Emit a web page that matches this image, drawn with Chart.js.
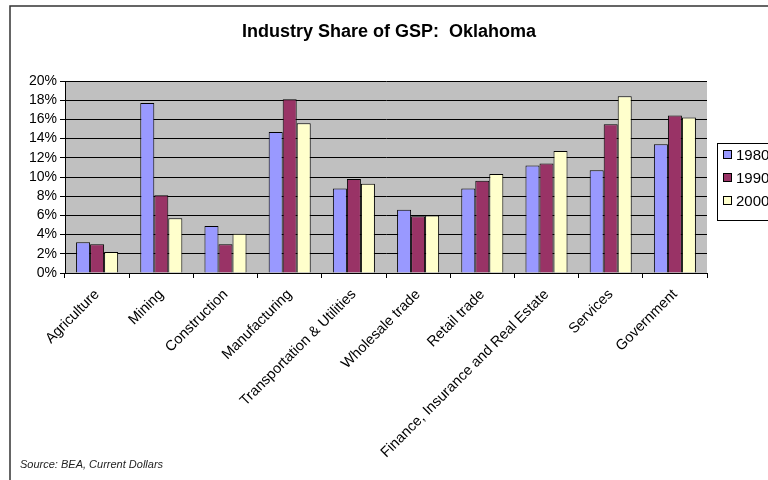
<!DOCTYPE html>
<html>
<head>
<meta charset="utf-8">
<script src="https://cdn.jsdelivr.net/npm/chart.js@4"></script>
<style>
    html, body { margin: 0; padding: 0; background: #fff; }
    #wrap { position: relative; width: 768px; height: 480px; }
</style>
</head>
<body>
<div id="wrap"><canvas id="gsp"></canvas></div>
<script>
const industries = [
    "Agriculture", "Mining", "Construction", "Manufacturing",
    "Transportation & Utilities", "Wholesale trade", "Retail trade",
    "Finance, Insurance and Real Estate", "Services", "Government",
];
const years = ["1980", "1990", "2000"];
const share1980 = [3.2, 17.7, 4.9, 14.7, 8.8, 6.6, 8.8, 11.2, 10.7, 13.4];
const share1990 = [3.0, 8.1, 3.0, 18.1, 9.8, 5.9, 9.6, 11.4, 15.5, 16.4];
const share2000 = [2.2, 5.7, 4.1, 15.6, 9.3, 6.0, 10.3, 12.7, 18.4, 16.2];
const yTicks = [0, 2, 4, 6, 8, 10, 12, 14, 16, 18, 20];

const colors = ["#9999ff", "#993366", "#ffffcc"];
const font = "'Liberation Sans', Arial, sans-serif";

// frame, grey plot background, title, source note, legend box
const excelLook = {
    id: "excelLook",
    beforeDraw(chart) {
        const { ctx, chartArea: a } = chart;
        ctx.save();
        ctx.fillStyle = "#c0c0c0";
        ctx.fillRect(a.left, a.top, a.right - a.left, a.bottom - a.top);
        ctx.restore();
    },
    afterDraw(chart) {
        const ctx = chart.ctx;
        ctx.save();
        // outer frame (cut off at right / bottom)
        ctx.strokeStyle = "#333";
        ctx.lineWidth = 1.5;
        ctx.beginPath();
        ctx.moveTo(10, 480);
        ctx.lineTo(10, 6);
        ctx.lineTo(768, 6);
        ctx.stroke();

        ctx.fillStyle = "#000";
        ctx.font = `bold 18px ${font}`;
        ctx.textAlign = "center";
        ctx.textBaseline = "middle";
        ctx.fillText("Industry Share of GSP:  Oklahoma", 389, 32);

        ctx.font = `italic 11px ${font}`;
        ctx.textAlign = "left";
        ctx.fillStyle = "#222";
        ctx.fillText("Source: BEA, Current Dollars", 20, 465);

        // legend
        ctx.fillStyle = "#fff";
        ctx.strokeStyle = "#000";
        ctx.lineWidth = 1;
        ctx.fillRect(717.5, 143.5, 60, 77);
        ctx.strokeRect(717.5, 143.5, 60, 77);
        ctx.font = `15px ${font}`;
        chart.data.datasets.forEach((ds, i) => {
            const cy = 155 + i * 23;
            ctx.fillStyle = ds.backgroundColor;
            ctx.fillRect(723.5, cy - 4.5, 8, 8);
            ctx.strokeRect(723.5, cy - 4.5, 8, 8);
            ctx.fillStyle = "#000";
            ctx.fillText(ds.label, 736, cy + 1);
        });
        ctx.restore();
    },
};

new Chart(document.getElementById("gsp"), {
    type: "bar",
    data: {
        labels: industries,
        datasets: [share1980, share1990, share2000].map((d, i) => ({
            label: years[i],
            data: d,
            backgroundColor: colors[i],
            borderColor: "#000",
            borderWidth: 1,
            categoryPercentage: 0.655,
            barPercentage: 1,
        })),
    },
    options: {
        responsive: true,
        maintainAspectRatio: false,
        animation: false,
        layout: { padding: { top: 81, right: 61, left: 0, bottom: 0 } },
        plugins: {
            legend: { display: false },
            title: { display: false },
            tooltip: { enabled: false },
        },
        scales: {
            x: {
                afterFit: (s) => { s.height = 207; },
                grid: {
                    display: true,
                    drawOnChartArea: false,
                    offset: true,
                    tickLength: 5,
                    color: "#000",
                },
                border: { display: true, color: "#000" },
                ticks: {
                    autoSkip: false,
                    minRotation: 45,
                    maxRotation: 45,
                    padding: 8,
                    color: "#000",
                    font: { family: font, size: 14.5 },
                },
            },
            y: {
                min: 0,
                max: 20,
                afterFit: (s) => { s.width = 65; },
                afterBuildTicks: (s) => { s.ticks = yTicks.map((v) => ({ value: v })); },
                grid: { color: "#000", tickLength: 5, lineWidth: 1 },
                border: { display: true, color: "#000" },
                ticks: {
                    autoSkip: false,
                    padding: 3,
                    color: "#000",
                    font: { family: font, size: 14 },
                    callback: (v) => v + "%",
                },
            },
        },
    },
    plugins: [excelLook],
});
</script>
</body>
</html>
